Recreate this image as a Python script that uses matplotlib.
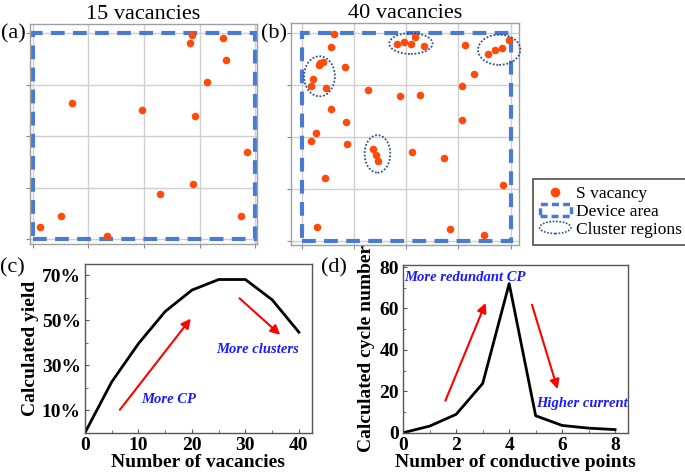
import matplotlib
matplotlib.use("Agg")
from matplotlib import pyplot as plt
from matplotlib.patches import Rectangle, Ellipse
from matplotlib.lines import Line2D
from matplotlib.legend_handler import HandlerPatch
from matplotlib.ticker import MultipleLocator, FixedLocator

plt.rcParams['font.family'] = ['Liberation Serif', 'DejaVu Serif']

# (a) 15 vacancies, grid units 0..4
a_x = [2.87, 2.83, 3.42, 3.48, 3.14, 0.70, 1.97, 2.92, 3.85, 2.89, 2.28, 0.51, 3.74, 0.13, 1.34]
a_y = [3.97, 3.81, 3.90, 3.47, 3.04, 2.64, 2.50, 2.39, 1.68, 1.06, 0.88, 0.44, 0.45, 0.23, 0.06]

# (b) 40 vacancies
b_x = [0.61, 0.56, 0.33, 0.40, 0.21, 0.18, 0.47, 0.83, 1.26, 0.56, 0.85, 0.28, 0.18, 0.87,
       1.37, 1.42, 1.47, 0.45, 0.29, 1.82, 1.96, 2.09, 2.16, 2.35, 1.89, 2.26, 2.12, 2.73,
       2.83, 3.12, 3.29, 3.07, 3.07, 3.56, 3.70, 3.83, 3.97, 3.85, 3.49, 0.36]
b_y = [3.97, 3.73, 3.37, 3.44, 3.10, 2.98, 2.94, 3.34, 2.90, 2.54, 2.29, 2.07, 1.92, 1.86,
       1.76, 1.64, 1.54, 1.20, 0.26, 3.79, 3.81, 3.78, 3.92, 3.74, 2.79, 2.80, 1.71, 1.59,
       0.23, 3.76, 3.21, 2.97, 2.32, 3.58, 3.67, 3.70, 3.85, 1.08, 0.11, 3.41]

# cluster regions in (b): centre x, centre y, width, height
cl_x = [0.34, 2.09, 3.78, 1.45]
cl_y = [3.16, 3.79, 3.67, 1.67]
cl_w = [0.59, 0.83, 0.81, 0.49]
cl_h = [0.77, 0.40, 0.58, 0.72]

# (c) yield vs vacancies
vac = [0, 5, 10, 15, 20, 25, 30, 35, 40]
yield_pct = [0, 22.6, 39.6, 53.9, 63.4, 68.1, 68.1, 59.1, 44.7]

# (d) cycle number vs conductive points
cp = [0, 1, 2, 3, 4, 5, 6, 7, 8]
cycles = [0, 3.2, 8.9, 23.8, 72, 8.2, 3.5, 2.2, 1.5]

dot_c = '#ff4a0a'
dash_c = '#4a7bd0'
ell_c = '#2f4f8f'
txt_c = '#1a1aff'

fig = plt.figure(figsize=(6.85, 4.73), dpi=100)
W, H = 685, 473


def px_axes(l, t, r, b):
    return fig.add_axes([l / W, 1 - b / H, (r - l) / W, (b - t) / H])


def px_label(x, y, s):
    fig.text(x / W, 1 - y / H, s, fontsize=16, ha='left', va='top')


def scatter_panel(ax, xs, ys, xlim, ylim, title):
    ax.set_xlim(*xlim)
    ax.set_ylim(*ylim)
    ax.xaxis.set_major_locator(FixedLocator([0, 1, 2, 3, 4]))
    ax.yaxis.set_major_locator(FixedLocator([0, 1, 2, 3, 4]))
    ax.grid(True, color='#cfcfcf', lw=1.0)
    ax.set_axisbelow(True)
    ax.tick_params(labelbottom=False, labelleft=False, length=3, color='#888888', width=0.8)
    for s in ax.spines.values():
        s.set_color('#a0a0a0')
        s.set_linewidth(1.0)
    ax.add_patch(Rectangle((0, 0), 4, 4, fill=False, ec=dash_c, lw=3,
                           ls=(0, (3.3, 2)), zorder=2))
    ax.scatter(xs, ys, s=30, color=dot_c, zorder=3, linewidths=0)
    ax.set_title(title, fontsize=16, pad=3)


ax_a = px_axes(30, 24, 257, 244)
scatter_panel(ax_a, a_x, a_y, (-0.054, 4.036), (-0.097, 4.175), '15 vacancies')
px_label(1, 24, '(a)')

ax_b = px_axes(290.7, 22.7, 518.7, 245)
scatter_panel(ax_b, b_x, b_y, (-0.21, 4.153), (-0.08, 4.19), '40 vacancies')
px_label(261, 24, '(b)')
for x, y, w, h in zip(cl_x, cl_y, cl_w, cl_h):
    ax_b.add_patch(Ellipse((x, y), w, h, fill=False, ec=ell_c, lw=1.3,
                           ls=(0, (1, 1)), zorder=4, clip_on=False))


def make_ellipse(legend, orig_handle, xdescent, ydescent, width, height, fontsize):
    return Ellipse((width / 2 - xdescent, height / 2 - ydescent), width, height)


handles = [
    Line2D([], [], marker='o', ls='none', color=dot_c, markersize=6),
    Rectangle((0, 0), 1, 1, fill=False, ec=dash_c, lw=2.5, ls=(0, (2, 1.2))),
    Ellipse((0, 0), 1, 1, fill=False, ec=ell_c, lw=1.2, ls=(0, (1, 1))),
]
leg = fig.legend(handles, ['S vacancy', 'Device area', 'Cluster regions'],
                 loc='upper left', bbox_to_anchor=(524 / W, 1 - 170 / H),
                 fontsize=12.5, frameon=True, fancybox=False, edgecolor='#222222',
                 handlelength=1.8, handletextpad=0.3, labelspacing=0.1, borderpad=0.4,
                 handler_map={Ellipse: HandlerPatch(patch_func=make_ellipse)})
leg.get_frame().set_linewidth(1.2)

bold = dict(fontsize=14, fontweight='bold')


def line_panel(ax):
    for s in ax.spines.values():
        s.set_color('#555555')
        s.set_linewidth(1.0)
    ax.tick_params(which='both', direction='in', color='#555555')
    ax.tick_params(which='major', length=3, labelsize=14, pad=3)
    ax.tick_params(which='minor', length=2)
    for t in ax.get_xticklabels() + ax.get_yticklabels():
        t.set_fontweight('bold')


# (c)
ax_c = px_axes(85, 264, 311.7, 432.7)
ax_c.plot(vac, yield_pct, color='black', lw=2.0, solid_joinstyle='miter')
ax_c.set_xlim(0, 42.4)
ax_c.set_ylim(0, 75)
ax_c.xaxis.set_major_locator(MultipleLocator(10))
ax_c.xaxis.set_minor_locator(MultipleLocator(5))
ax_c.set_yticks([10, 30, 50, 70])
ax_c.set_yticklabels(['10%', '30%', '50%', '70%'])
ax_c.yaxis.set_minor_locator(FixedLocator([20, 40, 60]))
line_panel(ax_c)
ax_c.set_xlabel('Number of vacancies', labelpad=0, **bold)
ax_c.set_ylabel('Calculated yield', labelpad=2, **bold)
ax_c.annotate('', xy=(20.1, 51.7), xytext=(6.2, 9.2),
              arrowprops=dict(arrowstyle='-|>', color='red', lw=1.5, mutation_scale=14))
ax_c.annotate('', xy=(36.9, 42.7), xytext=(28.5, 60.6),
              arrowprops=dict(arrowstyle='-|>', color='red', lw=1.5, mutation_scale=14))
ax_c.text(15.6, 14.9, 'More CP', color=txt_c, fontsize=10.5, fontweight='bold',
          style='italic', ha='center', va='center')
ax_c.text(32.2, 37.2, 'More clusters', color=txt_c, fontsize=10.5, fontweight='bold',
          style='italic', ha='center', va='center')
px_label(0, 258, '(c)')

# (d)
ax_d = px_axes(403.3, 265, 628.3, 432.7)
ax_d.plot(cp, cycles, color='black', lw=2.0)
ax_d.set_xlim(0, 8.5)
ax_d.set_ylim(0, 81)
ax_d.xaxis.set_major_locator(MultipleLocator(2))
ax_d.xaxis.set_minor_locator(MultipleLocator(1))
ax_d.yaxis.set_major_locator(MultipleLocator(20))
ax_d.yaxis.set_minor_locator(MultipleLocator(10))
line_panel(ax_d)
ax_d.set_xlabel('Number of conductive points', labelpad=0, **bold)
ax_d.set_ylabel('Calculated cycle number', labelpad=3, **bold)
ax_d.annotate('', xy=(3.15, 63.9), xytext=(1.55, 14.2),
              arrowprops=dict(arrowstyle='-|>', color='red', lw=1.5, mutation_scale=14))
ax_d.annotate('', xy=(5.86, 19.8), xytext=(4.83, 63.1),
              arrowprops=dict(arrowstyle='-|>', color='red', lw=1.5, mutation_scale=14))
ax_d.text(2.33, 75.2, 'More redundant CP', color=txt_c, fontsize=10.5, fontweight='bold',
          style='italic', ha='center', va='center')
ax_d.text(6.74, 14.2, 'Higher current', color=txt_c, fontsize=10.5, fontweight='bold',
          style='italic', ha='center', va='center')
px_label(321, 258, '(d)')

fig.savefig('out.png', dpi=100)
